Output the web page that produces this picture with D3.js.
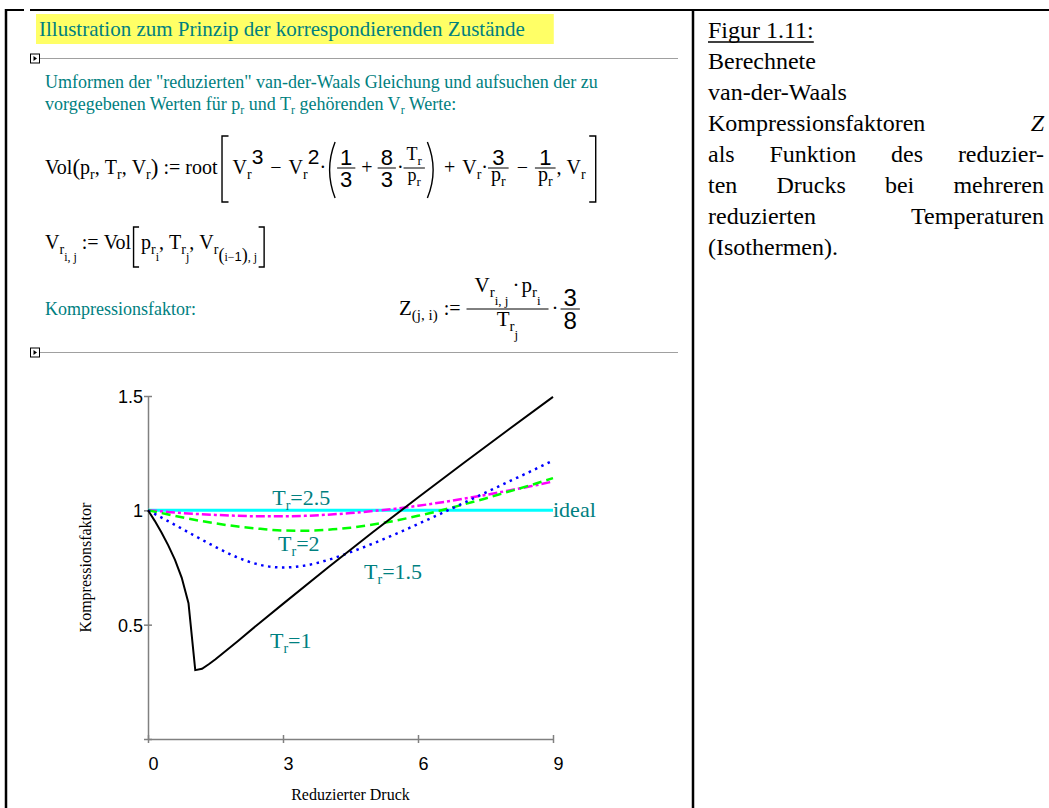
<!DOCTYPE html>
<html>
<head>
<meta charset="utf-8">
<script src="https://cdn.jsdelivr.net/npm/d3@7"></script>
<style>
  html, body { margin: 0; padding: 0; background: #fff; overflow: hidden; }
  text { white-space: pre; }
</style>
</head>
<body>
<svg id="page" width="1049" height="808"></svg>
<script>
// ---- chart data: reduced pressure vs. compressibility factor Z ----
const xTickValues = [0, 3, 6, 9];
const yTickValues = [0, 0.5, 1, 1.5];

// T_r = 1 (finer sampling around the jump at p_r ~ 1)
const pressureTr1 = [0, 0.15, 0.3, 0.45, 0.6, 0.75, 0.9, 1.05, 1.2, 1.35, 1.5, 2, 2.5, 3, 4, 5, 6, 7, 8, 9];
const zTr1 = [1, 0.954, 0.903, 0.847, 0.783, 0.705, 0.594, 0.301, 0.307, 0.327, 0.349, 0.429, 0.511, 0.591, 0.750, 0.905, 1.056, 1.205, 1.351, 1.496];

// common pressure grid for the warmer isotherms
const pressureGrid = [0, 0.5, 1, 1.5, 2, 2.5, 3, 3.5, 4, 4.5, 5, 5.5, 6, 6.5, 7, 7.5, 8, 8.5, 9];
const zTr15 = [1, 0.947, 0.893, 0.840, 0.793, 0.761, 0.750, 0.759, 0.783, 0.817, 0.855, 0.896, 0.940, 0.985, 1.031, 1.077, 1.124, 1.170, 1.218];
const zTr2  = [1, 0.980, 0.960, 0.943, 0.929, 0.919, 0.912, 0.911, 0.915, 0.924, 0.938, 0.955, 0.976, 0.999, 1.025, 1.052, 1.081, 1.110, 1.141];
const zTr25 = [1, 0.992, 0.985, 0.980, 0.976, 0.974, 0.974, 0.976, 0.981, 0.988, 0.997, 1.007, 1.020, 1.034, 1.050, 1.067, 1.086, 1.105, 1.126];

// ideal gas reference
const pressureIdeal = [0, 9];
const zIdeal = [1, 1];

const curveLabels = ["2.5", "2", "1.5", "1"];

// ---- drawing ----
const SERIF = "'Liberation Serif','Times New Roman',Times,serif";
const SANS = "'Liberation Sans',Arial,Helvetica,sans-serif";
const TEAL = "#008080";

const svg = d3.select("#page");
svg.append("rect").attr("width", 1049).attr("height", 808).attr("fill", "#fff");

// table frame
svg.append("line").attr("x1", 6).attr("x2", 6).attr("y1", 9).attr("y2", 808).attr("stroke", "#000").attr("stroke-width", 2.5);
svg.append("line").attr("x1", 5).attr("x2", 1049).attr("y1", 10).attr("y2", 10).attr("stroke", "#000").attr("stroke-width", 2);
svg.append("line").attr("x1", 693).attr("x2", 693).attr("y1", 9).attr("y2", 808).attr("stroke", "#000").attr("stroke-width", 2.5);
svg.append("rect").attr("x", 24).attr("y", 8.5).attr("width", 6).attr("height", 3).attr("fill", "#fff");

// ---- small math layout helpers ----
function txt(s, o = {}) {
  return (g, x, y) => {
    const t = g.append("text")
      .attr("x", x).attr("y", y + (o.dy || 0))
      .attr("fill", o.fill || "#000")
      .style("font-family", o.sans ? SANS : SERIF)
      .style("font-size", (o.size || 20) + "px")
      .style("font-style", o.italic ? "italic" : "normal")
      .text(s);
    return t.node().getComputedTextLength() + (o.pad || 0);
  };
}
const sub = (s, o = {}) => txt(s, Object.assign({ size: 14, dy: 5 }, o));
const subsub = (s, o = {}) => txt(s, Object.assign({ size: 12, dy: 12 }, o));
const sup = (s, o = {}) => txt(s, Object.assign({ size: 21, dy: -10, sans: true }, o));
const digit = (s, o = {}) => txt(s, Object.assign({ size: 22, sans: true }, o));
const gap = w => () => w;
const op = (s, w) => row(gap(w), txt(s), gap(w));

function row(...items) {
  return (g, x, y) => {
    let cx = x;
    for (const it of items) cx += it(g, cx, y);
    return cx - x;
  };
}
function frac(num, den, numBase, denBase, o = {}) {
  return (g, x, y) => {
    const gn = g.append("g"), gd = g.append("g");
    const wn = num(gn, 0, 0), wd = den(gd, 0, 0);
    const ext = o.ext ?? 3;
    const w = Math.max(wn, wd) + 2 * ext;
    const ly = y + (o.lineY ?? -6);
    gn.attr("transform", `translate(${x + (w - wn) / 2},${ly + numBase})`);
    gd.attr("transform", `translate(${x + (w - wd) / 2},${ly + denBase})`);
    g.append("line").attr("x1", x).attr("x2", x + w).attr("y1", ly).attr("y2", ly)
      .attr("stroke", "#000").attr("stroke-width", 1);
    return w + (o.pad ?? 1);
  };
}
function fence(kind, top, bottom, o = {}) {
  const w = o.w || 8;
  return (g, x, y) => {
    const y1 = y + top, y2 = y + bottom, xm = x + 1.5, xe = x + w - 2;
    let d;
    if (kind === "[") d = `M${xe},${y1}H${xm}V${y2}H${xe}`;
    if (kind === "]") d = `M${xm},${y1}H${xe}V${y2}H${xm}`;
    if (kind === "(") d = `M${xe},${y1}Q${x - 2},${(y1 + y2) / 2} ${xe},${y2}`;
    if (kind === ")") d = `M${xm},${y1}Q${x + w + 2},${(y1 + y2) / 2} ${xm},${y2}`;
    g.append("path").attr("d", d).attr("fill", "none").attr("stroke", "#000")
      .attr("stroke-width", o.sw || 1.4);
    return w;
  };
}

// ---- header block ----
const titleText = svg.append("text").attr("x", 39).attr("y", 36)
  .attr("fill", TEAL).style("font-family", SERIF).style("font-size", "21px")
  .text("Illustration zum Prinzip der korrespondierenden Zustände");
const titleW = titleText.node().getComputedTextLength();
svg.insert("rect", "text").attr("x", 36).attr("y", 14).attr("width", titleW + 32).attr("height", 30).attr("fill", "#ffff66");

function regionMarker(yLine) {
  svg.append("line").attr("x1", 40).attr("x2", 678).attr("y1", yLine).attr("y2", yLine)
    .attr("stroke", "#a0a0a0").attr("stroke-width", 1);
  svg.append("rect").attr("x", 30.5).attr("y", yLine - 4.5).attr("width", 9).attr("height", 9)
    .attr("fill", "#fff").attr("stroke", "#000").attr("stroke-width", 1);
  svg.append("path").attr("d", `M33.5,${yLine - 2.5}L33.5,${yLine + 2.5}L37,${yLine}Z`).attr("fill", "#000");
}
regionMarker(58.5);
regionMarker(352.5);

// explanatory paragraph (teal text with subscript r)
function richLine(parts, x0, y0, size, fill) {
  const t = svg.append("text").attr("x", x0).attr("y", y0).attr("fill", fill)
    .style("font-family", SERIF).style("font-size", size + "px");
  let lowered = false;
  parts.forEach(p => {
    if (typeof p === "string") {
      t.append("tspan").attr("dy", lowered ? -4 : 0).text(p);
      lowered = false;
    } else {
      t.append("tspan").attr("dy", 4).style("font-size", Math.round(size * 0.68) + "px").text(p.sub);
      lowered = true;
    }
  });
  return t;
}
richLine(['Umformen der "reduzierten" van-der-Waals Gleichung und aufsuchen der zu'], 45, 88, 18, TEAL);
richLine(["vorgegebenen Werten für p", { sub: "r" }, " und T", { sub: "r" }, " gehörenden V", { sub: "r" }, " Werte:"], 45, 110, 18, TEAL);

// Vol(p_r, T_r, V_r) := root[...]
const pr = () => row(txt("p"), sub("r"));
const formula1 = row(
  txt("Vol"), txt("(", { size: 23, dy: 1 }), txt("p"), sub("r"), txt(", "), txt("T"), sub("r"), txt(", "),
  txt("V"), sub("r"), txt(")", { size: 23, dy: 1 }),
  op(":=", 5), txt("root", { pad: 3 }),
  fence("[", -38, 28, { w: 10 }), gap(2),
  txt("V"), sub("r"), sup("3"), op("−", 7), txt("V"), sub("r"), sup("2"), txt("·"),
  fence("(", -32, 24, { w: 11 }),
  frac(digit("1"), digit("3"), -3, 19), op("+", 5),
  frac(digit("8"), digit("3"), -3, 19), txt("·"),
  frac(row(txt("T", { size: 18 }), sub("r", { size: 13 })), row(txt("p", { size: 18 }), sub("r", { size: 13 })), -8, 13),
  fence(")", -32, 24, { w: 11 }),
  op("+", 7), txt("V"), sub("r"), txt("·"), frac(digit("3"), pr(), -3, 13),
  op("−", 7), frac(digit("1"), pr(), -3, 13),
  txt(", "), txt("V"), sub("r"), gap(2),
  fence("]", -38, 28, { w: 10 })
);
formula1(svg.append("g"), 45, 174);

// V_r(i,j) := Vol[...]
const formula2 = row(
  txt("V"), sub("r"), subsub("i, j"), op(":=", 5), txt("Vol", { pad: 1 }),
  fence("[", -22, 18, { w: 9 }),
  txt("p"), sub("r"), subsub("i"), txt(", "), txt("T"), sub("r"), subsub("j"), txt(", "),
  txt("V"), sub("r"), txt("(", { size: 18, dy: 12 }), subsub("i−"),
  txt("1", { sans: true, size: 13, dy: 12 }), txt(")", { size: 18, dy: 12 }), subsub(", j"),
  fence("]", -22, 18, { w: 9 })
);
formula2(svg.append("g"), 45, 249);

svg.append("text").attr("x", 45).attr("y", 315).attr("fill", TEAL)
  .style("font-family", SERIF).style("font-size", "18px").text("Kompressionsfaktor:");

// Z(j,i) := V·p / T · 3/8
const formula3 = row(
  txt("Z", { size: 21 }), sub("(j, i)", { size: 15 }), op(":=", 6),
  frac(row(txt("V", { size: 21 }), sub("r", { size: 15 }), subsub("i, j", { size: 13, dy: 13 }), gap(4),
           txt("·", { size: 21 }), gap(2), txt("p", { size: 21 }), sub("r", { size: 15 }), subsub("i", { size: 13, dy: 13 })),
       row(txt("T", { size: 21 }), sub("r", { size: 15 }), subsub("j", { size: 13, dy: 13 })), -17, 17, { ext: 8 }),
  gap(2), txt("·", { size: 21 }), gap(2),
  frac(digit("3", { size: 24 }), digit("8", { size: 24 }), -3, 20, { ext: 3 })
);
formula3(svg.append("g"), 399, 315);

// ---- caption column ----
function captionLine(words, y0, justify) {
  const g = svg.append("g");
  const ts = words.map(w => g.append("text")
    .style("font-family", SERIF).style("font-size", "24px")
    .style("font-style", w.italic ? "italic" : "normal").attr("fill", "#000").text(w.s));
  const widths = ts.map(t => t.node().getComputedTextLength());
  const x0 = 708, x1 = 1044;
  const space = justify && words.length > 1 ? (x1 - x0 - d3.sum(widths)) / (words.length - 1) : 6;
  let cx = x0;
  ts.forEach((t, i) => { t.attr("x", cx).attr("y", y0); cx += widths[i] + space; });
  return widths;
}
const figW = captionLine([{ s: "Figur 1.11:" }], 38, false);
svg.append("line").attr("x1", 708).attr("x2", 708 + figW[0]).attr("y1", 42).attr("y2", 42)
  .attr("stroke", "#000").attr("stroke-width", 1.3);
captionLine([{ s: "Berechnete" }], 69, false);
captionLine([{ s: "van-der-Waals" }], 100, false);
captionLine([{ s: "Kompressionsfaktoren" }, { s: "Z", italic: true }], 131, true);
captionLine([{ s: "als" }, { s: "Funktion" }, { s: "des" }, { s: "reduzier-" }], 162, true);
captionLine([{ s: "ten" }, { s: "Drucks" }, { s: "bei" }, { s: "mehreren" }], 193, true);
captionLine([{ s: "reduzierten" }, { s: "Temperaturen" }], 224, true);
captionLine([{ s: "(Isothermen)." }], 255, false);

// ---- chart ----
const x = d3.scaleLinear().domain([0, 9]).range([148, 553]);
const y = d3.scaleLinear().domain([0, 1.5]).range([739, 396]);
const AXIS = "#808080";

const xAxis = svg.append("g").attr("transform", `translate(0,${y(0)})`)
  .call(d3.axisBottom(x).tickValues(xTickValues).tickSize(4).tickSizeOuter(0).tickFormat(d3.format("d")));
xAxis.select(".domain").attr("stroke", AXIS).attr("stroke-width", 1.5).attr("fill", "none");
xAxis.selectAll(".tick line").attr("y1", -4).attr("y2", 4).attr("stroke", AXIS).attr("stroke-width", 1.5);
xAxis.selectAll(".tick text").attr("y", 18).attr("dx", 5).attr("dy", "0.71em").attr("fill", "#000")
  .style("font-family", SANS).style("font-size", "18px");

const yAxis = svg.append("g").attr("transform", `translate(${x(0)},0)`)
  .call(d3.axisLeft(y).tickValues(yTickValues).tickSize(4).tickSizeOuter(0)
    .tickFormat(d => d === 0 ? "" : d3.format("")(d)));
yAxis.select(".domain").attr("stroke", AXIS).attr("stroke-width", 1.5).attr("fill", "none");
yAxis.selectAll(".tick line").attr("x1", -4).attr("x2", 4).attr("stroke", AXIS).attr("stroke-width", 1.5);
yAxis.selectAll(".tick text").attr("x", -5).attr("dy", "0.36em").attr("fill", "#000")
  .style("font-family", SANS).style("font-size", "18px");

svg.append("text").attr("transform", `translate(91,${(y(0) + y(1.5)) / 2}) rotate(-90)`)
  .attr("text-anchor", "middle").attr("fill", "#000")
  .style("font-family", SERIF).style("font-size", "16px").text("Kompressionsfaktor");
svg.append("text").attr("x", (x(0) + x(9)) / 2).attr("y", 800).attr("text-anchor", "middle").attr("fill", "#000")
  .style("font-family", SERIF).style("font-size", "16px").text("Reduzierter Druck");

const linear = d3.line().x(d => x(d[0])).y(d => y(d[1]));
const smooth = d3.line().x(d => x(d[0])).y(d => y(d[1])).curve(d3.curveMonotoneX);
const zip = (a, b) => a.map((v, i) => [v, b[i]]);

const plot = svg.append("g").attr("fill", "none");
plot.append("path").attr("d", linear(zip(pressureIdeal, zIdeal)))
  .attr("stroke", "#00ffff").attr("stroke-width", 3);
plot.append("path").attr("d", smooth(zip(pressureGrid, zTr25)))
  .attr("stroke", "#ff00ff").attr("stroke-width", 2.5).attr("stroke-dasharray", "9,3,3,3");
plot.append("path").attr("d", smooth(zip(pressureGrid, zTr2)))
  .attr("stroke", "#00ff00").attr("stroke-width", 2.5).attr("stroke-dasharray", "9,5");
plot.append("path").attr("d", smooth(zip(pressureGrid, zTr15)))
  .attr("stroke", "#0000ff").attr("stroke-width", 2.5).attr("stroke-dasharray", "2.5,4.5");
plot.append("path").attr("d", linear(zip(pressureTr1, zTr1)))
  .attr("stroke", "#000").attr("stroke-width", 2);

// isotherm labels
function isoLabel(value, p, z) {
  const t = svg.append("text").attr("x", x(p)).attr("y", y(z)).attr("fill", TEAL)
    .style("font-family", SERIF).style("font-size", "22px");
  t.append("tspan").text("T");
  t.append("tspan").attr("dy", 5).style("font-size", "14px").text("r");
  t.append("tspan").attr("dy", -5).text("=" + value);
}
isoLabel(curveLabels[0], 2.76, 1.023);
isoLabel(curveLabels[1], 2.89, 0.822);
isoLabel(curveLabels[2], 4.8, 0.70);
isoLabel(curveLabels[3], 2.71, 0.398);
svg.append("text").attr("x", x(9)).attr("y", y(0.97)).attr("fill", TEAL)
  .style("font-family", SERIF).style("font-size", "22px").text("ideal");
</script>
</body>
</html>
